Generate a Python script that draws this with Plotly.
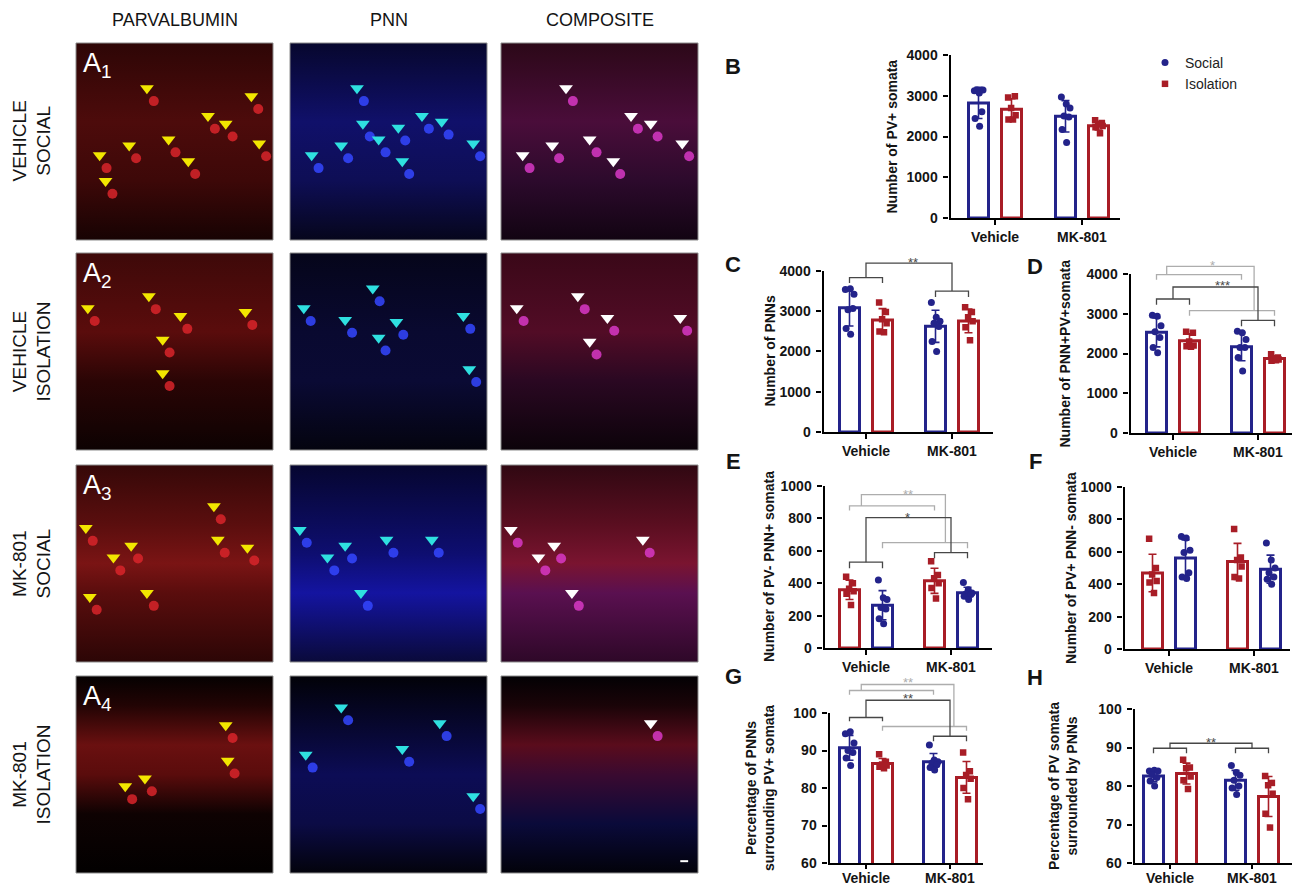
import numpy as np
import plotly.graph_objects as go

# The page shows the figure with the browser's 8 px body margin, so all the
# pixel positions below (measured on the 1300x888 reference) are shifted by it.
OX, OY = 8, 8
FW, FH = 1300 - OX, 888 - OY
BLUE = "#23238a"
RED = "#a81d26"
INK = "#141414"
DARK_BR = "#474747"
GREY_BR = "#adadad"
FONT = "Liberation Sans, Arial, Helvetica, sans-serif"

# ---------------------------------------------------------------- data
CATEGORIES = ["Vehicle", "MK-801"]
COUNT_TICKS = [0, 1000, 2000, 3000, 4000]
SMALL_TICKS = [0, 200, 400, 600, 800, 1000]
PCT_TICKS = [60, 70, 80, 90, 100]

# B  number of PV+ somata            [Vehicle], [MK-801]
pv_social = [[3120, 3070, 3140, 3140, 2610, 2440, 2250], [2970, 2800, 2700, 2500, 2480, 2170, 1850]]
pv_isolation = [[2960, 2990, 2700, 2520, 2420, 2420], [2400, 2330, 2300, 2260, 2230, 2080]]
# C  number of PNNs
pnn_social = [[3540, 3560, 3420, 3040, 3070, 2570, 2430], [3220, 2850, 2750, 2700, 2620, 2250, 2000]]
pnn_isolation = [[3220, 2980, 2800, 2700, 2500, 2480], [3100, 2980, 2850, 2750, 2600, 2280]]
# D  number of PNN+PV+ somata
double_social = [[2960, 2940, 2700, 2550, 2400, 2150, 2020], [2560, 2520, 2350, 2150, 2150, 1900, 1560]]
double_isolation = [[2550, 2520, 2300, 2200, 2180, 2170], [1980, 1900, 1880, 1850, 1820, 1830]]
# E  number of PV- PNN+ somata
pnn_only_social = [[420, 310, 300, 250, 240, 180, 150], [405, 360, 340, 335, 330, 320, 300]]
pnn_only_isolation = [[440, 400, 365, 350, 335, 265], [535, 450, 430, 400, 370, 305]]
# F  number of PV+ PNN- somata
pv_only_social = [[695, 685, 610, 595, 470, 445, 435], [655, 550, 500, 470, 445, 430, 400]]
pv_only_isolation = [[680, 500, 460, 420, 410, 345], [740, 565, 550, 510, 445, 435]]
# G  percentage of PNNs surrounding PV+ somata
pct_pnn_social = [[94.5, 95.0, 92.0, 90.0, 89.5, 88.0, 86.0], [91.5, 87.5, 87.0, 86.7, 86.2, 85.5, 84.8]]
pct_pnn_isolation = [[89.0, 87.0, 86.3, 86.0, 85.7, 85.3], [89.5, 84.5, 83.5, 82.5, 80.0, 77.0]]
# H  percentage of PV somata surrounded by PNNs
pct_pv_social = [[83.9, 84.1, 83.9, 83.0, 82.2, 81.3, 80.0], [85.3, 83.5, 82.8, 81.5, 80.0, 79.5, 77.8]]
pct_pv_isolation = [[86.8, 84.8, 84.6, 82.5, 81.5, 79.2], [82.6, 80.8, 80.2, 78.0, 72.8, 69.2]]

COLUMN_HEADERS = ["PARVALBUMIN", "PNN", "COMPOSITE"]
ROW_LABELS = ["VEHICLE<br>SOCIAL", "VEHICLE<br>ISOLATION", "MK-801<br>SOCIAL", "MK-801<br>ISOLATION"]
PANEL_TAGS = ["A<sub>1</sub>", "A<sub>2</sub>", "A<sub>3</sub>", "A<sub>4</sub>"]

# arrowheads in the micrographs (fraction of panel width, fraction of height from top)
row1_pv = [(0.36, 0.23), (0.89, 0.27), (0.67, 0.37), (0.76, 0.41), (0.47, 0.49), (0.27, 0.52),
           (0.93, 0.51), (0.12, 0.57), (0.57, 0.60), (0.15, 0.70)]
row1_pnn = [(0.34, 0.23), (0.37, 0.41), (0.55, 0.43), (0.67, 0.37), (0.77, 0.40), (0.45, 0.49),
            (0.26, 0.52), (0.11, 0.57), (0.57, 0.60), (0.93, 0.51)]
row1_comp = [(0.33, 0.23), (0.66, 0.37), (0.76, 0.41), (0.45, 0.49), (0.26, 0.52), (0.11, 0.57),
             (0.57, 0.60), (0.92, 0.51)]
row2_pv = [(0.06, 0.28), (0.37, 0.22), (0.53, 0.32), (0.86, 0.30), (0.44, 0.44), (0.44, 0.61)]
row2_pnn = [(0.07, 0.28), (0.42, 0.18), (0.28, 0.34), (0.54, 0.35), (0.88, 0.32), (0.45, 0.43), (0.91, 0.59)]
row2_comp = [(0.08, 0.28), (0.39, 0.22), (0.54, 0.33), (0.91, 0.33), (0.45, 0.45)]
row3_pv = [(0.05, 0.32), (0.70, 0.21), (0.28, 0.41), (0.19, 0.47), (0.72, 0.38), (0.87, 0.42),
           (0.36, 0.65), (0.07, 0.67)]
row3_pnn = [(0.05, 0.33), (0.28, 0.41), (0.49, 0.38), (0.72, 0.38), (0.19, 0.47), (0.36, 0.65)]
row3_comp = [(0.05, 0.33), (0.27, 0.41), (0.19, 0.47), (0.72, 0.38), (0.36, 0.65)]
row4_pv = [(0.76, 0.25), (0.77, 0.43), (0.35, 0.52), (0.25, 0.56)]
row4_pnn = [(0.26, 0.16), (0.76, 0.24), (0.57, 0.37), (0.08, 0.40), (0.93, 0.61)]
row4_comp = [(0.76, 0.24)]

ARROWS = [[row1_pv, row1_pnn, row1_comp], [row2_pv, row2_pnn, row2_comp],
          [row3_pv, row3_pnn, row3_comp], [row4_pv, row4_pnn, row4_comp]]

# ---------------------------------------------------------------- styles / layout
COL_X = [(76, 273), (290, 487), (501, 698)]
ROW_Y = [(43, 240), (253, 450), (465, 662), (676, 873)]
ARROW_COL = ["#f2e600", "#2fe0e0", "#ffffff"]
CELL_COL = ["#d8252a", "#3446ff", "#d838c6"]
PANEL_GRADIENTS = [
    [[[0, "#170303"], [0.3, "#3d0808"], [0.6, "#4d0b0b"], [1, "#2e0606"]],
     [[0, "#06061c"], [0.3, "#0e0e55"], [0.6, "#10106a"], [1, "#07072e"]],
     [[0, "#120412"], [0.3, "#2c0a2c"], [0.6, "#4a0d3a"], [1, "#2c0818"]]],
    [[[0, "#0d0202"], [0.35, "#2a0505"], [0.6, "#5a0c0c"], [1, "#3e0909"]],
     [[0, "#04040f"], [0.35, "#0a0a34"], [0.6, "#090930"], [1, "#05051a"]],
     [[0, "#0c030a"], [0.35, "#2a0822"], [0.6, "#520c26"], [1, "#3a0818"]]],
    [[[0, "#2c0606"], [0.35, "#5a0d0d"], [0.5, "#7a1414"], [0.7, "#5a0e0e"], [1, "#360808"]],
     [[0, "#0a0a3a"], [0.35, "#1414a0"], [0.55, "#0e0e70"], [1, "#060630"]],
     [[0, "#2e0828"], [0.35, "#5a1050"], [0.5, "#7a1430"], [0.7, "#5a0e20"], [1, "#300812"]]],
    [[[0, "#020000"], [0.3, "#0e0202"], [0.5, "#5a0c0c"], [0.65, "#6a1010"], [0.85, "#220404"], [1, "#050101"]],
     [[0, "#03030c"], [0.25, "#0b0b45"], [0.5, "#0c0c55"], [0.75, "#07072e"], [1, "#020208"]],
     [[0, "#02020a"], [0.25, "#0a0a3a"], [0.5, "#3a0a30"], [0.65, "#5a0c1c"], [0.85, "#1a0408"], [1, "#030104"]]],
]

CHARTS = [
    dict(letter="B", title="Number of PV+ somata", social=pv_social, isolation=pv_isolation,
         first="social", ticks=COUNT_TICKS, ytop=4000, title_x=892, letter_px=(733, 67),
         px=dict(x0=950, xv=995, xm=1082, xend=1120, ybot=218, ytick=55),
         pairs=[], conns=[], stars=[]),
    dict(letter="C", title="Number of PNNs", social=pnn_social, isolation=pnn_isolation,
         first="social", ticks=COUNT_TICKS, ytop=4450, title_x=769, letter_px=(733, 264),
         px=dict(x0=823, xv=866, xm=952, xend=993, ybot=432, ytick=271),
         pairs=[(0, 1, 3834, 133, "dark"), (2, 3, 3502, 149, "dark")],
         conns=[(0, 0.5, 1, 0.5, 4198, "dark")],
         stars=[("**", 0.55, 4290, "dark")]),
    dict(letter="D", title="Number of PNN+PV+somata", social=double_social, isolation=double_isolation,
         first="social", ticks=COUNT_TICKS, ytop=4450, title_x=1064, letter_px=(1035, 266),
         px=dict(x0=1130, xv=1173, xm=1258, xend=1292, ybot=433, ytick=274),
         pairs=[(0, 2, 3983, 125, "grey"), (1, 3, 3078, 126, "grey"),
                (0, 1, 3371, 142, "dark"), (2, 3, 2834, 150, "dark")],
         conns=[(0, 0.12, 1, 0.76, 4193, "grey"), (2, 0.5, 3, 0.5, 3673, "dark")],
         stars=[("*", 0.46, 4280, "grey"), ("***", 0.58, 3780, "dark")]),
    dict(letter="E", title="Number of PV- PNN+ somata", social=pnn_only_social, isolation=pnn_only_isolation,
         first="isolation", ticks=SMALL_TICKS, ytop=1035, title_x=769, letter_px=(733, 461),
         px=dict(x0=824, xv=866, xm=951, xend=992, ybot=648, ytick=486),
         pairs=[(0, 2, 877, 29, "grey"), (1, 3, 651, 35, "grey"),
                (0, 1, 530, 37, "dark"), (2, 3, 589, 35, "dark")],
         conns=[(0, 0.14, 1, 0.74, 947, "grey"), (2, 0.5, 3, 0.5, 805, "dark")],
         stars=[("**", 0.49, 966, "grey"), ("*", 0.49, 826, "dark")]),
    dict(letter="F", title="Number of PV+ PNN- somata", social=pv_only_social, isolation=pv_only_isolation,
         first="isolation", ticks=SMALL_TICKS, ytop=1000, title_x=1071, letter_px=(1035, 461),
         px=dict(x0=1124, xv=1169, xm=1254, xend=1290, ybot=649, ytick=487),
         pairs=[], conns=[], stars=[]),
    dict(letter="G", title="Percentage of PNNs<br>surrounding PV+ somata", social=pct_pnn_social,
         isolation=pct_pnn_isolation, first="social", ticks=PCT_TICKS, ytop=110.5,
         title_x=760, letter_px=(733, 676),
         px=dict(x0=829, xv=866, xm=950, xend=983, ybot=863, ytick=713),
         pairs=[(0, 2, 106.0, 1.1, "grey"), (1, 3, 96.4, 1.1, "grey"),
                (0, 1, 98.8, 1.0, "dark"), (2, 3, 93.8, 1.3, "dark")],
         conns=[(0, 0.14, 1, 0.85, 107.6, "grey"), (2, 0.5, 3, 0.5, 103.4, "dark")],
         stars=[("**", 0.5, 109.0, "grey"), ("**", 0.5, 104.7, "dark")]),
    dict(letter="H", title="Percentage of PV somata<br>surrounded by PNNs", social=pct_pv_social,
         isolation=pct_pv_isolation, first="social", ticks=PCT_TICKS, ytop=100,
         title_x=1063, letter_px=(1035, 677),
         px=dict(x0=1134, xv=1170, xm=1252, xend=1292, ybot=863, ytick=709),
         pairs=[(0, 1, 89.8, 1.3, "dark"), (2, 3, 89.8, 1.3, "dark")],
         conns=[(0, 0.5, 1, 0.5, 91.1, "dark")],
         stars=[("**", 0.5, 92.0, "dark")]),
]

JIT7 = [-0.55, 0.1, 0.6, -0.2, 0.45, -0.45, 0.15]
JIT6 = [-0.45, 0.45, -0.05, 0.55, -0.4, 0.2]


def fx(px):
    return (px - OX) / FW


def fy(py):
    return 1 - (py - OY) / FH


fig = go.Figure()
axes_layout = {}
annotations = []
shapes = []
counter = {"n": 0}


def new_axes(xdom, ydom, xr, yr, xkw=None, ykw=None):
    counter["n"] += 1
    n = counter["n"]
    sfx = "" if n == 1 else str(n)
    xa = dict(domain=xdom, range=xr, anchor="y" + sfx, visible=False, fixedrange=True,
              showgrid=False, zeroline=False, automargin=False)
    ya = dict(domain=ydom, range=yr, anchor="x" + sfx, visible=False, fixedrange=True,
              showgrid=False, zeroline=False, automargin=False)
    if xkw:
        xa.update(xkw)
    if ykw:
        ya.update(ykw)
    axes_layout["xaxis" + sfx] = xa
    axes_layout["yaxis" + sfx] = ya
    return "x" + sfx, "y" + sfx


# ---------------------------------------------------------------- micrograph panels
for r, (yt, yb) in enumerate(ROW_Y):
    for c, (xl, xr) in enumerate(COL_X):
        xa, ya = new_axes([fx(xl), fx(xr)], [fy(yb), fy(yt)], [0, 1], [1, 0])
        fig.add_trace(go.Scatter(x=[0, 1, 1, 0, 0], y=[0, 0, 1, 1, 0], mode="lines",
                                 line=dict(width=0), fill="toself",
                                 fillgradient=dict(type="vertical", colorscale=PANEL_GRADIENTS[r][c]),
                                 xaxis=xa, yaxis=ya, hoverinfo="skip", showlegend=False))
        pts = ARROWS[r][c]
        axp = [p[0] for p in pts]
        ayp = [p[1] for p in pts]
        fig.add_trace(go.Scatter(x=[v + 0.035 for v in axp], y=[v + 0.065 for v in ayp], mode="markers",
                                 marker=dict(symbol="circle", size=10, color=CELL_COL[c], opacity=0.85),
                                 xaxis=xa, yaxis=ya, hoverinfo="skip", showlegend=False))
        fig.add_trace(go.Scatter(x=axp, y=ayp, mode="markers",
                                 marker=dict(symbol="triangle-down", size=12, color=ARROW_COL[c]),
                                 xaxis=xa, yaxis=ya, hoverinfo="skip", showlegend=False))
        if r == 3 and c == 2:
            fig.add_trace(go.Scatter(x=[0.91, 0.95], y=[0.94, 0.94], mode="lines",
                                     line=dict(color="white", width=2),
                                     xaxis=xa, yaxis=ya, hoverinfo="skip", showlegend=False))
        shapes.append(dict(type="rect", xref="paper", yref="paper", x0=fx(xl), x1=fx(xr),
                           y0=fy(yb), y1=fy(yt), line=dict(color="#8c8c8c", width=1),
                           fillcolor="rgba(0,0,0,0)", layer="above"))
    annotations.append(dict(text=PANEL_TAGS[r], xref="paper", yref="paper",
                            x=fx(COL_X[0][0] + 5), y=fy(yt + 3), xanchor="left", yanchor="top",
                            showarrow=False, font=dict(family="Liberation Sans Narrow, " + FONT,
                                                       size=27, color="white")))
    annotations.append(dict(text=ROW_LABELS[r], xref="paper", yref="paper",
                            x=fx(31), y=fy((yt + yb) / 2), textangle=-90,
                            xanchor="center", yanchor="middle", showarrow=False,
                            font=dict(family=FONT, size=19, color=INK)))

# column headers sit at the very top of the page
for c, (xl, xr) in enumerate(COL_X):
    annotations.append(dict(text=COLUMN_HEADERS[c], xref="paper", yref="paper",
                            x=fx((xl + xr) / 2), y=1.0, xanchor="center", yanchor="top",
                            showarrow=False, font=dict(family=FONT, size=18, color=INK)))

# ---------------------------------------------------------------- bar charts
for ch in CHARTS:
    g = ch["px"]
    p = g["xm"] - g["xv"]
    off = 16.5 / p
    bw = 20.0 / p
    lo = (g["x0"] - 1.5 - g["xv"]) / p
    hi = (g["xend"] - g["xv"]) / p
    ymin, ytick_top = ch["ticks"][0], ch["ticks"][-1]
    pxu = (g["ybot"] - g["ytick"]) / (ytick_top - ymin)
    ytop_px = g["ybot"] - (ch["ytop"] - ymin) * pxu
    tickfont = dict(family=FONT, size=14, color=INK, weight="bold")
    bottom_row = g["ybot"] > 850
    xa, ya = new_axes(
        [fx(g["x0"] - 1.5), fx(g["xend"])], [fy(g["ybot"]), fy(ytop_px)],
        [lo, hi], [ymin, ch["ytop"]],
        xkw=dict(visible=True, showline=True, linecolor="black", linewidth=2, ticks="outside",
                 ticklen=(4 if bottom_row else 5), tickwidth=2, tickcolor="black",
                 tickvals=[0, 1], ticktext=CATEGORIES, tickfont=tickfont,
                 ticklabelstandoff=(-3 if bottom_row else 0)),
        ykw=dict(visible=True, showline=False, ticks="outside", ticklen=5, tickwidth=2,
                 tickcolor="black", tickvals=ch["ticks"], tickfont=tickfont, ticklabelstandoff=2))

    groups = [("Social", ch["social"], BLUE, "circle", 7), ("Isolation", ch["isolation"], RED, "square", 6.5)]
    if ch["first"] == "isolation":
        groups = groups[::-1]
    point_traces = []
    for gi, (name, vals, col, sym, msize) in enumerate(groups):
        sign = -1 if gi == 0 else 1
        xs = [ci + sign * off for ci in range(len(CATEGORIES))]
        means = [float(np.mean(v)) for v in vals]
        sds = [float(np.std(v, ddof=1)) for v in vals]
        fig.add_trace(go.Bar(x=xs, y=means, width=bw, xaxis=xa, yaxis=ya, showlegend=False,
                             marker=dict(color="rgba(255,255,255,0)", line=dict(color=col, width=3)),
                             error_y=dict(type="data", array=sds, visible=True, color=col,
                                          thickness=1.6, width=4),
                             hoverinfo="skip"))
        px_, py_ = [], []
        for ci, v in enumerate(vals):
            jit = JIT7 if len(v) >= 7 else JIT6
            px_ += [xs[ci] + jit[k % len(jit)] * 7.5 / p for k in range(len(v))]
            py_ += list(v)
        point_traces.append(go.Scatter(x=px_, y=py_, mode="markers", name=name, xaxis=xa, yaxis=ya,
                                       marker=dict(symbol=sym, size=msize, color=col),
                                       showlegend=(ch["letter"] == "B"),
                                       legendrank=(1 if name == "Social" else 2),
                                       hoverinfo="skip"))
    for t in point_traces:
        fig.add_trace(t)

    # y axis line (drawn only up to the top tick)
    fig.add_trace(go.Scatter(x=[(g["x0"] - g["xv"]) / p] * 2, y=[ymin, ytick_top], mode="lines",
                             line=dict(color="black", width=2), xaxis=xa, yaxis=ya,
                             hoverinfo="skip", showlegend=False))

    # significance brackets
    slots = [0 - off, 0 + off, 1 - off, 1 + off]
    for tone, tcol in (("grey", GREY_BR), ("dark", DARK_BR)):
        bx, by = [], []
        for (a, b, lev, drop, tn) in ch["pairs"]:
            if tn != tone:
                continue
            bx += [slots[a], slots[a], slots[b], slots[b], None]
            by += [lev - drop, lev, lev, lev - drop, None]
        for (i, fi, j, fj, top, tn) in ch["conns"]:
            if tn != tone:
                continue
            pi, pj = ch["pairs"][i], ch["pairs"][j]
            xl_ = slots[pi[0]] + fi * (slots[pi[1]] - slots[pi[0]])
            xr_ = slots[pj[0]] + fj * (slots[pj[1]] - slots[pj[0]])
            bx += [xl_, xl_, xr_, xr_, None]
            by += [pi[2], top, top, pj[2], None]
        if bx:
            fig.add_trace(go.Scatter(x=bx, y=by, mode="lines", line=dict(color=tcol, width=1.3),
                                     xaxis=xa, yaxis=ya, hoverinfo="skip", showlegend=False))
    for (txt, sx, sy, tn) in ch["stars"]:
        annotations.append(dict(text=txt, x=sx, y=sy, xref=xa, yref=ya, showarrow=False,
                                xanchor="center", yanchor="middle", yshift=-3,
                                font=dict(family=FONT, size=13,
                                          color=(GREY_BR if tn == "grey" else DARK_BR))))

    # axis title and panel letter
    annotations.append(dict(text=ch["title"], xref="paper", yref="paper",
                            x=fx(ch["title_x"]), y=fy((g["ybot"] + g["ytick"]) / 2),
                            textangle=-90, xanchor="center", yanchor="middle", showarrow=False,
                            font=dict(family=FONT, size=14, color=INK, weight="bold")))
    annotations.append(dict(text=ch["letter"], xref="paper", yref="paper",
                            x=fx(ch["letter_px"][0]), y=fy(ch["letter_px"][1]),
                            xanchor="center", yanchor="middle", showarrow=False,
                            font=dict(family=FONT, size=22, color=INK, weight="bold")))

fig.update_layout(
    width=FW, height=FH,
    margin=dict(l=0, r=0, t=0, b=0, autoexpand=False),
    paper_bgcolor="white", plot_bgcolor="rgba(0,0,0,0)",
    barmode="overlay", hovermode=False,
    showlegend=True,
    legend=dict(x=fx(1145), y=fy(47), xanchor="left", yanchor="top",
                font=dict(family=FONT, size=14, color="#222222"),
                bgcolor="rgba(0,0,0,0)", itemclick=False, itemdoubleclick=False),
    annotations=annotations, shapes=shapes,
    **axes_layout,
)

fig.write_html("out.html")
